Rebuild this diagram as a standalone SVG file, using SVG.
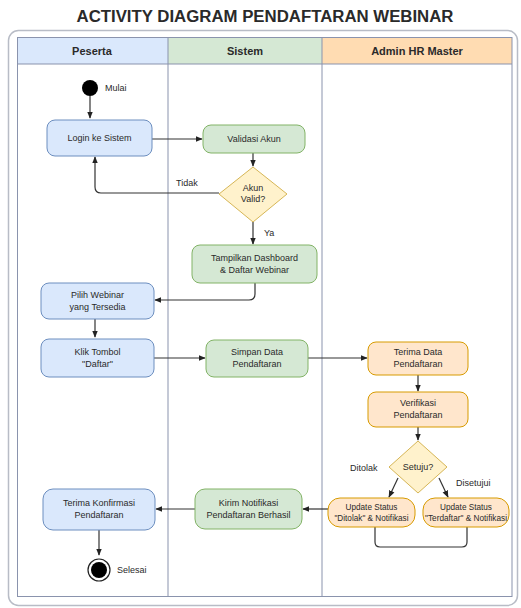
<svg xmlns="http://www.w3.org/2000/svg" width="521" height="608" viewBox="0 0 521 608">
<style>
text{font-family:"Liberation Sans",Arial,sans-serif;fill:#2a2a2a}
.t{font-size:9px;text-anchor:middle}
.s{font-size:8.2px;text-anchor:middle}
.h{font-size:11px;font-weight:bold;text-anchor:middle}
.l{font-size:9px}
.b{fill:#dae8fc;stroke:#6c8ebf;stroke-width:1}
.g{fill:#d5e8d4;stroke:#82b366;stroke-width:1}
.o{fill:#ffe6cc;stroke:#d79b00;stroke-width:1}
.y{fill:#fff2cc;stroke:#d6b656;stroke-width:1}
.c{fill:none;stroke:#333;stroke-width:1.2}
</style>
<defs>
<marker id="a" viewBox="0 0 10 10" refX="9" refY="5" markerWidth="6" markerHeight="6" orient="auto"><path d="M0,1 L10,5 L0,9 z" fill="#222"/></marker>
</defs>
<rect width="521" height="608" fill="#fff"/>
<text x="265" y="22" style="font-size:16.8px;font-weight:bold;text-anchor:middle;fill:#2a2a2a">ACTIVITY DIAGRAM PENDAFTARAN WEBINAR</text>
<rect x="8.5" y="30.5" width="509" height="575" rx="10" fill="#fff" stroke="#b8bcc6" stroke-width="1.5"/>
<g id="lanes">
<rect x="17" y="37" width="151" height="27" fill="#dae8fc"/>
<rect x="168" y="37" width="154" height="27" fill="#d5e8d4"/>
<rect x="322" y="37" width="190" height="27" fill="#ffdcb2"/>
<rect x="17.5" y="37.5" width="494.5" height="559" fill="none" stroke="#8a93ad" stroke-width="1"/>
<line x1="17" y1="64" x2="512" y2="64" stroke="#8a93ad"/>
<line x1="168" y1="37" x2="168" y2="596" stroke="#8a93ad"/>
<line x1="322" y1="37" x2="322" y2="596" stroke="#8a93ad"/>
<text class="h" x="92" y="55">Peserta</text>
<text class="h" x="245" y="55">Sistem</text>
<text class="h" x="417" y="55">Admin HR Master</text>
</g>
<g id="connectors">
<path class="c" d="M90,96 V118" marker-end="url(#a)"/>
<path class="c" d="M152,139 H202" marker-end="url(#a)"/>
<path class="c" d="M253,153 V166" marker-end="url(#a)"/>
<path class="c" d="M219,193 H101 Q95,193 95,187 V157" marker-end="url(#a)"/>
<path class="c" d="M253,222 V244" marker-end="url(#a)"/>
<path class="c" d="M255,283 V294 Q255,300 249,300 H155" marker-end="url(#a)"/>
<path class="c" d="M95,319 V337" marker-end="url(#a)"/>
<path class="c" d="M154,358 H205" marker-end="url(#a)"/>
<path class="c" d="M308,358 H367" marker-end="url(#a)"/>
<path class="c" d="M418,375 V391" marker-end="url(#a)"/>
<path class="c" d="M418,427 V440" marker-end="url(#a)"/>
<path class="c" d="M398,478 L389,497" marker-end="url(#a)"/>
<path class="c" d="M439,478 L448,497" marker-end="url(#a)"/>
<path class="c" d="M375,527 V542 Q375,547 380,547 H462 Q467,547 467,542 V527"/>
<path class="c" d="M328,509 H303" marker-end="url(#a)"/>
<path class="c" d="M195,509 H156" marker-end="url(#a)"/>
<path class="c" d="M99,530 V555" marker-end="url(#a)"/>
<text class="l" x="176" y="186">Tidak</text>
<text class="l" x="264" y="236">Ya</text>
<text class="l" x="350" y="471">Ditolak</text>
<text class="l" x="456" y="486">Disetujui</text>
</g>
<g id="start">
<circle cx="90" cy="88" r="8" fill="#000"/>
<text class="l" x="105" y="91">Mulai</text>
</g>
<g id="login"><rect class="b" x="47" y="120" width="105" height="36" rx="8"/><text class="t" x="99.5" y="141">Login ke Sistem</text></g>
<g id="validasi"><rect class="g" x="203" y="125" width="102" height="28" rx="8"/><text class="t" x="254" y="142">Validasi Akun</text></g>
<g id="akunvalid"><polygon class="y" points="253,167 287,194 253,222 219,194"/><text class="t" x="253" y="191">Akun</text><text class="t" x="253" y="202">Valid?</text></g>
<g id="tampilkan"><rect class="g" x="192" y="245" width="125" height="38" rx="8"/><text class="t" x="254.5" y="261">Tampilkan Dashboard</text><text class="t" x="254.5" y="273">&amp; Daftar Webinar</text></g>
<g id="pilih"><rect class="b" x="41" y="283" width="113" height="36" rx="8"/><text class="t" x="97.5" y="298">Pilih Webinar</text><text class="t" x="97.5" y="310">yang Tersedia</text></g>
<g id="klik"><rect class="b" x="41" y="339" width="113" height="38" rx="8"/><text class="t" x="97.5" y="355">Klik Tombol</text><text class="t" x="97.5" y="367">"Daftar"</text></g>
<g id="simpan"><rect class="g" x="206" y="340" width="102" height="37" rx="8"/><text class="t" x="257" y="355">Simpan Data</text><text class="t" x="257" y="367">Pendaftaran</text></g>
<g id="terimadata"><rect class="o" x="368" y="342" width="100" height="33" rx="8"/><text class="t" x="418" y="355">Terima Data</text><text class="t" x="418" y="367">Pendaftaran</text></g>
<g id="verifikasi"><rect class="o" x="368" y="392" width="100" height="35" rx="8"/><text class="t" x="418" y="406">Verifikasi</text><text class="t" x="418" y="418">Pendaftaran</text></g>
<g id="setuju"><polygon class="y" points="418,441 447,467 418,493 389,467"/><text class="t" x="418" y="470">Setuju?</text></g>
<g id="ditolak"><rect class="o" x="328" y="498" width="87" height="29" rx="12"/><text class="s" x="371.5" y="510">Update Status</text><text class="s" x="371.5" y="520.5">"Ditolak" &amp; Notifikasi</text></g>
<g id="terdaftar"><rect class="o" x="423" y="498" width="86" height="29" rx="12"/><text class="s" x="466" y="510">Update Status</text><text class="s" x="466" y="520.5" textLength="82" lengthAdjust="spacingAndGlyphs">"Terdaftar" &amp; Notifikasi</text></g>
<g id="kirim"><rect class="g" x="195" y="489" width="107" height="40" rx="10"/><text class="t" x="248.5" y="506">Kirim Notifikasi</text><text class="t" x="248.5" y="518">Pendaftaran Berhasil</text></g>
<g id="terimakonf"><rect class="b" x="43" y="489" width="112" height="41" rx="10"/><text class="t" x="99" y="506">Terima Konfirmasi</text><text class="t" x="99" y="518">Pendaftaran</text></g>
<g id="end">
<circle cx="99" cy="570" r="11" fill="#fff" stroke="#222" stroke-width="1.2"/>
<circle cx="99" cy="570" r="8" fill="#000"/>
<text class="l" x="117" y="573">Selesai</text>
</g>
</svg>
